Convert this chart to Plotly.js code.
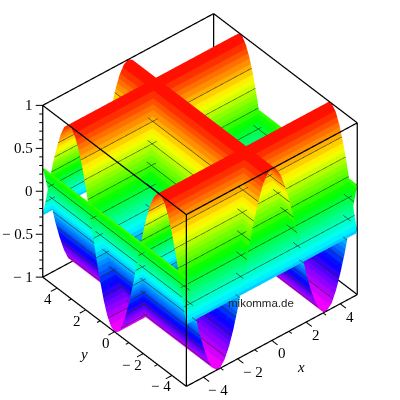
<!DOCTYPE html>
<html><head><meta charset="utf-8">
<script src="https://cdn.plot.ly/plotly-3.0.1.min.js"></script>
<style>html,body{margin:0;padding:0;background:#fff}#c{width:400px;height:400px}</style>
</head><body><div id="c"></div>
<script>
// positions along each horizontal axis
const gridX = [-5,-4.75,-4.5,-4.25,-4,-3.75,-3.5,-3.25,-3,-2.75,-2.5,-2.25,-2,-1.75,-1.5,-1.25,-1,-0.75,-0.5,-0.25,0,0.25,0.5,0.75,1,1.25,1.5,1.75,2,2.25,2.5,2.75,3,3.25,3.5,3.75,4,4.25,4.5,4.75,5];
const gridY = gridX;
// sheet A height read along x (same for every y)
const sheetA = [0.28,0.04,-0.21,-0.45,-0.65,-0.82,-0.94,-0.99,-0.99,-0.92,-0.80,-0.63,-0.42,-0.18,0.07,0.32,0.54,0.73,0.88,0.97,1,0.97,0.88,0.73,0.54,0.32,0.07,-0.18,-0.42,-0.63,-0.80,-0.92,-0.99,-0.99,-0.94,-0.82,-0.65,-0.45,-0.21,0.04,0.28];
// sheet B height read along y (same for every x)
const sheetB = [-0.28,-0.04,0.21,0.45,0.65,0.82,0.94,0.99,0.99,0.92,0.80,0.63,0.42,0.18,-0.07,-0.32,-0.54,-0.73,-0.88,-0.97,-1,-0.97,-0.88,-0.73,-0.54,-0.32,-0.07,0.18,0.42,0.63,0.80,0.92,0.99,0.99,0.94,0.82,0.65,0.45,0.21,-0.04,-0.28];
const xEnds = [-5,5];
const yEnds = [-5,5];
const zEnds = [-1,1];
const zMajor = [-1,-0.5,0,0.5,1];
const zMinor = [-0.9,-0.8,-0.7,-0.6,-0.4,-0.3,-0.2,-0.1,0.1,0.2,0.3,0.4,0.6,0.7,0.8,0.9];
const zLabels = ['\u2212 1','\u2212 0.5','0','0.5','1'];
const xyMajor = [-4,-2,0,2,4];
const xyMinor = [-3,-1,1,3];
const xyLabels = ['\u2212 4','\u2212 2','0','2','4'];

const bands = 40;
const scale = [];
for(let i=0;i<bands;i++){
  const c='hsl('+(300*(1-(i+0.5)/bands)).toFixed(2)+',100%,50%)';
  scale.push([i/bands,c]);scale.push([(i+1)/bands,c]);
}

const zA = gridY.map(()=>sheetA.slice());
const zB = sheetB.map(v=>gridX.map(()=>v));
const common = {x:gridX,y:gridY,cmin:-1,cmax:1,colorscale:scale,showscale:false,hoverinfo:'skip',
  lighting:{ambient:1,diffuse:0,specular:0,roughness:1,fresnel:0},
  contours:{z:{show:true,start:-0.9,end:0.9,size:0.2,color:'rgba(10,20,0,0.9)',width:2.5}}};

// box frame edges and tick strokes, as line segments in data coordinates
const lx=[],ly=[],lz=[];
function seg(a,b){lx.push(a[0],b[0],null);ly.push(a[1],b[1],null);lz.push(a[2],b[2],null);}
const [x0,x1]=xEnds,[y0,y1]=yEnds,[z0,z1]=zEnds;
[z0,z1].forEach(z=>{[y0,y1].forEach(y=>seg([x0,y,z],[x1,y,z]));[x0,x1].forEach(x=>seg([x,y0,z],[x,y1,z]));});
[x0,x1].forEach(x=>[y0,y1].forEach(y=>seg([x,y,z0],[x,y,z1])));
const tx=[],ty=[],tz=[];
function tick(a,b){tx.push(a[0],b[0],null);ty.push(a[1],b[1],null);tz.push(a[2],b[2],null);}
xyMajor.forEach(v=>{tick([v,y0,z0],[v,y0-0.4,z0]);tick([x0,v,z0],[x0-0.36,v,z0]);});
xyMinor.forEach(v=>{tick([v,y0,z0],[v,y0-0.2,z0]);tick([x0,v,z0],[x0-0.18,v,z0]);});
zMajor.forEach(v=>tick([x0,y1,v],[x0-0.24,y1+0.2,v]));
zMinor.forEach(v=>tick([x0,y1,v],[x0-0.12,y1+0.1,v]));

const frame={type:'scatter3d',mode:'lines',x:lx,y:ly,z:lz,line:{color:'#000',width:2.5},hoverinfo:'skip',showlegend:false};
const ticks={type:'scatter3d',mode:'lines',x:tx,y:ty,z:tz,line:{color:'#000',width:2},hoverinfo:'skip',showlegend:false};

const serif={family:'Liberation Serif',size:15,color:'#000'};
const sceneNotes=[];
xyMajor.forEach((v,i)=>{
  sceneNotes.push({x:v,y:y0,z:z0,text:xyLabels[i],showarrow:false,font:serif,xshift:v<0?15:10,yshift:-13});
  sceneNotes.push({x:x0,y:v,z:z0,text:xyLabels[i],showarrow:false,font:serif,xshift:v<0?-11:-9,yshift:-11});
});
zMajor.forEach((v,i)=>sceneNotes.push({x:x0,y:y1,z:v,text:zLabels[i],showarrow:false,font:serif,xanchor:'right',xshift:-8}));
const italic={family:'Liberation Serif',size:15,color:'#000'};
sceneNotes.push({x:1.5,y:y0,z:z0,text:'<i>x</i>',showarrow:false,font:italic,xshift:4,yshift:-40});
sceneNotes.push({x:x0,y:1.3,z:z0,text:'<i>y</i>',showarrow:false,font:italic,xshift:-12,yshift:-36});

const axis = {showbackground:false,showgrid:false,zeroline:false,showline:false,ticks:'',showticklabels:false,showspikes:false,title:{text:''}};
const layout = {width:400,height:400,margin:{l:0,r:0,t:0,b:0},paper_bgcolor:'#fff',showlegend:false,
  scene:{domain:{x:[0,1],y:[0,1]},aspectmode:'manual',aspectratio:{x:1.228,y:1.228,z:1.228},dragmode:false,
    camera:{projection:{type:'orthographic'},center:{x:0,y:0,z:0},up:{x:0,y:0,z:1},eye:{x:-0.662,y:-0.788,z:0.855}},
    xaxis:Object.assign({},axis,{range:[-5.5,5.5]}),
    yaxis:Object.assign({},axis,{range:[-5.5,5.5]}),
    zaxis:Object.assign({},axis,{range:[-1.1,1.1]}),
    annotations:sceneNotes
  },
  annotations:[{xref:'paper',yref:'paper',x:261/400,y:1-303/400,yanchor:'middle',xanchor:'center',text:'mikomma.de',showarrow:false,font:{family:'Liberation Sans',size:11.5,color:'#222'}}]
};
Plotly.newPlot('c',[Object.assign({z:zA,type:'surface'},common),Object.assign({z:zB,type:'surface'},common),frame,ticks],layout,{displayModeBar:false});
</script></body></html>
